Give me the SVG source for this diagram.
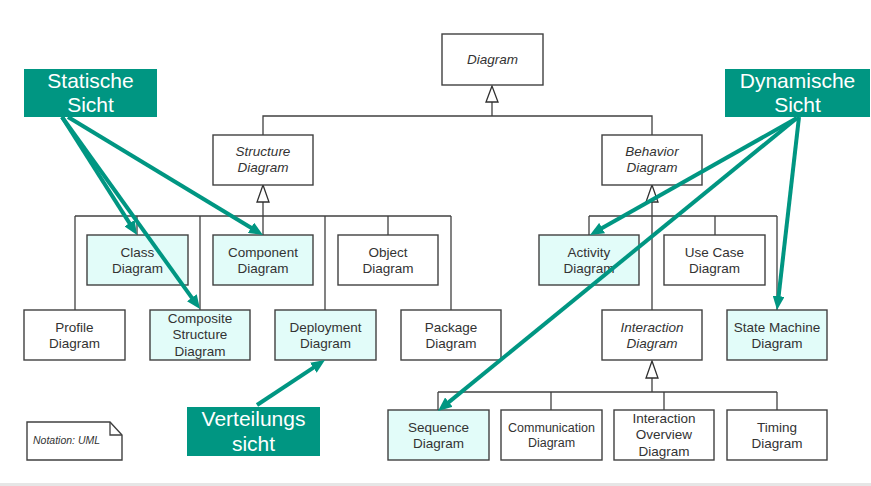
<svg xmlns="http://www.w3.org/2000/svg" width="871" height="486" viewBox="0 0 871 486">
<style>
.box{fill:#ffffff;stroke:#404040;stroke-width:1.4}
.hl{fill:#e2fcf9;stroke:#404040;stroke-width:1.4}
.t{font-family:"Liberation Sans",Arial,sans-serif;font-size:13.5px;fill:#333333;text-anchor:middle}
.s{font-size:12.5px}
.i{font-style:italic}
.ln{fill:none;stroke:#404040;stroke-width:1.3}
.tri{fill:#ffffff;stroke:#303030;stroke-width:1.3}
.gbox{fill:#009682}
.gt{font-family:"Liberation Sans",Arial,sans-serif;font-size:21px;fill:#ffffff;text-anchor:middle}
.ga{fill:none;stroke:#009682;stroke-width:4;marker-end:url(#ah)}
</style>
<defs>
<marker id="ah" markerUnits="userSpaceOnUse" markerWidth="14" markerHeight="12" refX="2" refY="6" orient="auto" viewBox="0 0 14 12">
<path d="M0,0 L14,6 L0,12 z" fill="#009682"/>
</marker>
</defs>
<rect x="0" y="483" width="871" height="3" fill="#e6e6e6"/>

<g id="connectors">
<polyline class="ln" points="263,135 263,116 652,116 652,135"/>
<line class="ln" x1="492" y1="102" x2="492" y2="116"/>
<polygon class="tri" points="492,86 486,102 498,102"/>

<line class="ln" x1="263" y1="202" x2="263" y2="216"/>
<line class="ln" x1="75" y1="216" x2="451" y2="216"/>
<line class="ln" x1="75" y1="216" x2="75" y2="310"/>
<line class="ln" x1="137" y1="216" x2="137" y2="235"/>
<line class="ln" x1="200" y1="216" x2="200" y2="310"/>
<line class="ln" x1="263" y1="216" x2="263" y2="235"/>
<line class="ln" x1="325" y1="216" x2="325" y2="310"/>
<line class="ln" x1="388" y1="216" x2="388" y2="235"/>
<line class="ln" x1="451" y1="216" x2="451" y2="310"/>
<polygon class="tri" points="263,185 257,202 269,202"/>

<line class="ln" x1="652" y1="202" x2="652" y2="310"/>
<line class="ln" x1="589" y1="216" x2="777" y2="216"/>
<line class="ln" x1="589" y1="216" x2="589" y2="235"/>
<line class="ln" x1="715" y1="216" x2="715" y2="235"/>
<line class="ln" x1="777" y1="216" x2="777" y2="310"/>
<polygon class="tri" points="652,185 646,202 658,202"/>

<line class="ln" x1="652" y1="378" x2="652" y2="392"/>
<line class="ln" x1="438" y1="392" x2="777" y2="392"/>
<line class="ln" x1="438" y1="392" x2="438" y2="410"/>
<line class="ln" x1="551" y1="392" x2="551" y2="410"/>
<line class="ln" x1="664" y1="392" x2="664" y2="410"/>
<line class="ln" x1="777" y1="392" x2="777" y2="410"/>
<polygon class="tri" points="652,361 646,378 658,378"/>
</g>

<g id="diagram"><rect class="box" x="442" y="34" width="101" height="51"/><text class="t i" x="492.5" y="64">Diagram</text></g>
<g id="structure"><rect class="box" x="213" y="135" width="100" height="50"/><text class="t i" x="263" y="155.5">Structure</text><text class="t i" x="263" y="172">Diagram</text></g>
<g id="behavior"><rect class="box" x="602" y="135" width="100" height="50"/><text class="t i" x="652" y="155.5">Behavior</text><text class="t i" x="652" y="172">Diagram</text></g>

<g id="class"><rect class="hl" x="87" y="235" width="101" height="50"/><text class="t" x="137.5" y="256.5">Class</text><text class="t" x="137.5" y="273">Diagram</text></g>
<g id="component"><rect class="hl" x="213" y="235" width="100" height="50"/><text class="t" x="263" y="256.5">Component</text><text class="t" x="263" y="273">Diagram</text></g>
<g id="object"><rect class="box" x="338" y="235" width="100" height="50"/><text class="t" x="388" y="256.5">Object</text><text class="t" x="388" y="273">Diagram</text></g>

<g id="profile"><rect class="box" x="24" y="310" width="101" height="50"/><text class="t" x="74.5" y="331.5">Profile</text><text class="t" x="74.5" y="348">Diagram</text></g>
<g id="composite"><rect class="hl" x="150" y="310" width="100" height="50"/><text class="t" x="200" y="322.5">Composite</text><text class="t" x="200" y="339">Structure</text><text class="t" x="200" y="355.5">Diagram</text></g>
<g id="deployment"><rect class="hl" x="275" y="310" width="101" height="50"/><text class="t" x="325.5" y="331.5">Deployment</text><text class="t" x="325.5" y="348">Diagram</text></g>
<g id="package"><rect class="box" x="401" y="310" width="100" height="50"/><text class="t" x="451" y="331.5">Package</text><text class="t" x="451" y="348">Diagram</text></g>

<g id="activity"><rect class="hl" x="539" y="235" width="100" height="50"/><text class="t" x="589" y="256.5">Activity</text><text class="t" x="589" y="273">Diagram</text></g>
<g id="usecase"><rect class="box" x="664" y="235" width="101" height="50"/><text class="t" x="714.5" y="256.5">Use Case</text><text class="t" x="714.5" y="273">Diagram</text></g>
<g id="interaction"><rect class="box" x="602" y="310" width="100" height="50"/><text class="t i" x="652" y="331.5">Interaction</text><text class="t i" x="652" y="348">Diagram</text></g>
<g id="statemachine"><rect class="hl" x="727" y="310" width="100" height="50"/><text class="t" x="777" y="331.5">State Machine</text><text class="t" x="777" y="348">Diagram</text></g>

<g id="sequence"><rect class="hl" x="388" y="410" width="101" height="50"/><text class="t" x="438.5" y="431.5">Sequence</text><text class="t" x="438.5" y="448">Diagram</text></g>
<g id="communication"><rect class="box" x="501" y="410" width="101" height="50"/><text class="t s" x="551.5" y="431.5">Communication</text><text class="t s" x="551.5" y="446.5">Diagram</text></g>
<g id="overview"><rect class="box" x="614" y="410" width="100" height="50"/><text class="t" x="664" y="422.5">Interaction</text><text class="t" x="664" y="439">Overview</text><text class="t" x="664" y="455.5">Diagram</text></g>
<g id="timing"><rect class="box" x="727" y="410" width="100" height="50"/><text class="t" x="777" y="431.5">Timing</text><text class="t" x="777" y="448">Diagram</text></g>

<g id="note">
<path class="box" d="M27,422 H110 L122,435 V460 H27 Z"/>
<path class="ln" d="M110,422 V435 H122"/>
<text class="t i" x="33" y="444" style="font-size:10.5px;text-anchor:start">Notation: UML</text>
</g>

<g id="views">
<line class="ga" x1="62" y1="117" x2="130.6" y2="224.9"/>
<line class="ga" x1="62" y1="117" x2="193" y2="299.3"/>
<line class="ga" x1="68" y1="117" x2="252.7" y2="228.8"/>
<line class="ga" x1="797" y1="118" x2="600.4" y2="229.1"/>
<line class="ga" x1="797" y1="118" x2="447.3" y2="403.4"/>
<line class="ga" x1="799" y1="117" x2="778.4" y2="298.1"/>
<line class="ga" x1="257" y1="405" x2="315" y2="366.6"/>
</g>

<g id="statisch"><rect class="gbox" x="24" y="69" width="133" height="48"/><text class="gt" x="90.5" y="88">Statische</text><text class="gt" x="90.5" y="112">Sicht</text></g>
<g id="dynamisch"><rect class="gbox" x="725" y="69" width="145" height="48"/><text class="gt" x="797.5" y="88">Dynamische</text><text class="gt" x="797.5" y="112">Sicht</text></g>
<g id="verteilung"><rect class="gbox" x="187" y="407" width="133" height="49"/><text class="gt" x="253.5" y="426">Verteilungs</text><text class="gt" x="253.5" y="451">sicht</text></g>
</svg>
